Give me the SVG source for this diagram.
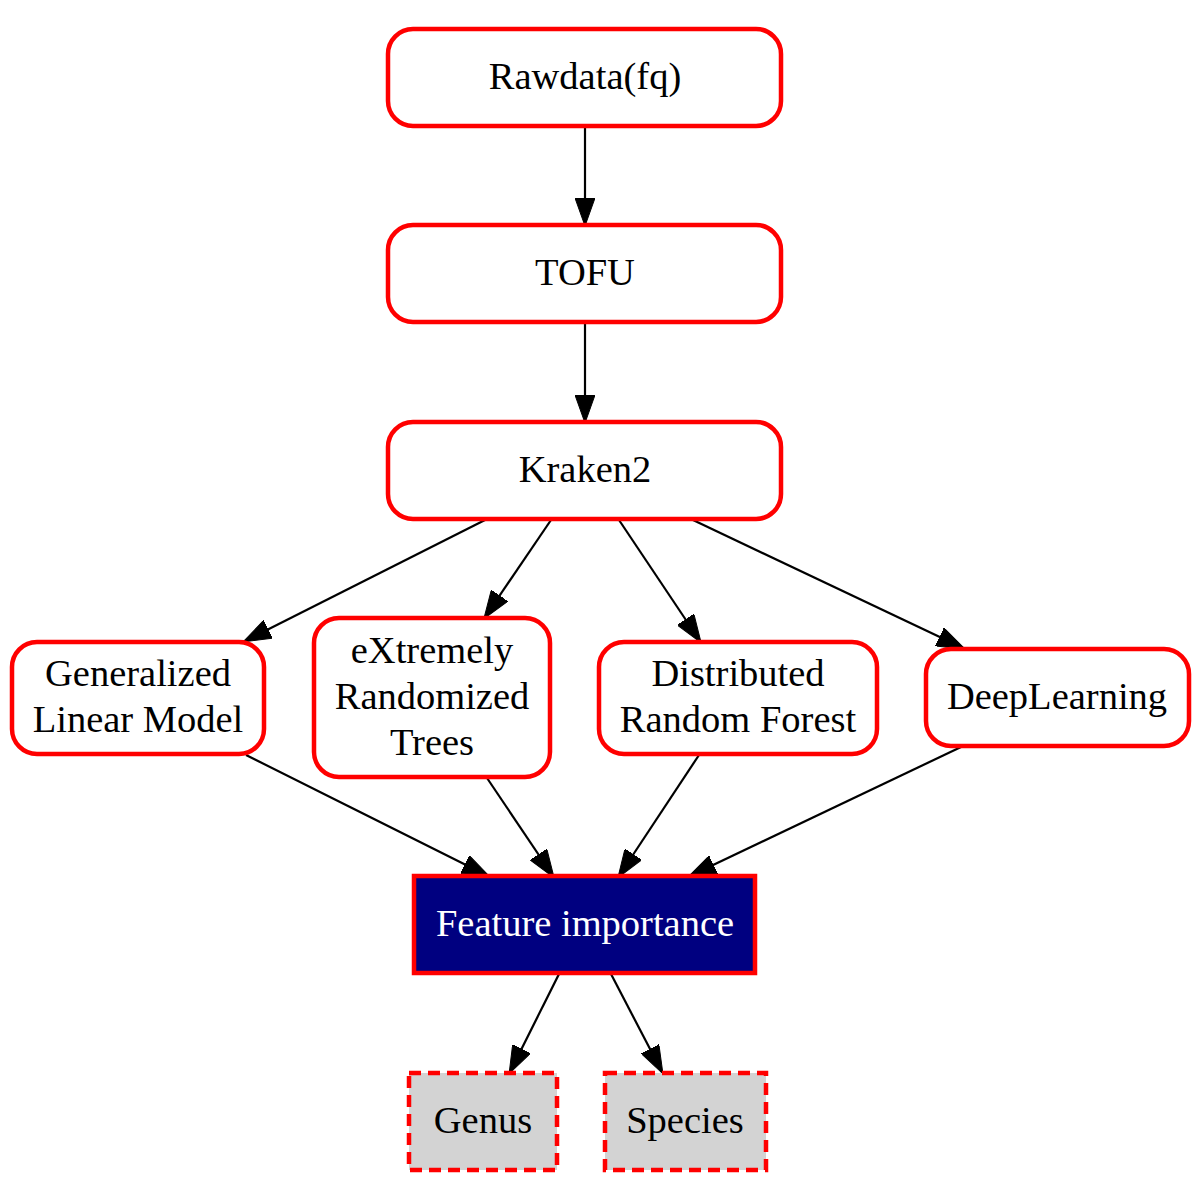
<svg xmlns="http://www.w3.org/2000/svg" width="1200" height="1200" viewBox="0 0 1200 1200">
<style>
.n{fill:#fff;stroke:#ff0000;stroke-width:4.5}
.fi{fill:#000080;stroke:#ff0000;stroke-width:4.5}
.d{fill:#d3d3d3;stroke:#ff0000;stroke-width:4.5;stroke-dasharray:12,7}
text{font-family:"Liberation Serif","Times New Roman",Times,serif;font-size:38.5px;text-anchor:middle;fill:#000}
.w{fill:#fff}
.e{stroke:#000;stroke-width:2.2;fill:none;marker-end:url(#a)}
</style>
<defs>
<marker id="a" viewBox="0 0 28 20" refX="26" refY="10" markerWidth="28" markerHeight="20" markerUnits="userSpaceOnUse" orient="auto">
<path d="M0,0 L28,10 L0,20 z" fill="#000" stroke="#000" stroke-width="1"/>
</marker>
</defs>
<g id="edges">
<line class="e" x1="585" y1="126" x2="585" y2="224"/>
<line class="e" x1="585" y1="322" x2="585" y2="421"/>
<line class="e" x1="485" y1="520" x2="245" y2="641"/>
<line class="e" x1="551" y1="520" x2="485" y2="617"/>
<line class="e" x1="619" y1="520" x2="700" y2="641"/>
<line class="e" x1="693" y1="520" x2="963" y2="648"/>
<line class="e" x1="246" y1="755" x2="488" y2="876"/>
<line class="e" x1="487" y1="778" x2="553" y2="876"/>
<line class="e" x1="699" y1="755" x2="619" y2="876"/>
<line class="e" x1="961" y1="747" x2="690" y2="876"/>
<line class="e" x1="559" y1="974" x2="510" y2="1072"/>
<line class="e" x1="611" y1="974" x2="662" y2="1072"/>
</g>
<g id="rawdata">
<rect class="n" x="388" y="29" width="393" height="97" rx="25"/>
<text x="585" y="89">Rawdata(fq)</text>
</g>
<g id="tofu">
<rect class="n" x="388" y="225" width="393" height="97" rx="25"/>
<text x="585" y="285">TOFU</text>
</g>
<g id="kraken2">
<rect class="n" x="388" y="422" width="393" height="97" rx="25"/>
<text x="585" y="482">Kraken2</text>
</g>
<g id="glm">
<rect class="n" x="12" y="642" width="252" height="112" rx="25"/>
<text x="138" y="686">Generalized</text>
<text x="138" y="732">Linear Model</text>
</g>
<g id="ert">
<rect class="n" x="314" y="618" width="236" height="159" rx="25"/>
<text x="432" y="663">eXtremely</text>
<text x="432" y="709">Randomized</text>
<text x="432" y="755">Trees</text>
</g>
<g id="drf">
<rect class="n" x="599" y="642" width="278" height="112" rx="25"/>
<text x="738" y="686">Distributed</text>
<text x="738" y="732">Random Forest</text>
</g>
<g id="dl">
<rect class="n" x="926" y="649" width="263" height="97" rx="25"/>
<text x="1057" y="709">DeepLearning</text>
</g>
<g id="featureimportance">
<rect class="fi" x="414" y="876" width="341" height="97"/>
<text class="w" x="585" y="936">Feature importance</text>
</g>
<g id="genus">
<rect class="d" x="409" y="1073" width="148" height="97"/>
<text x="483" y="1133">Genus</text>
</g>
<g id="species">
<rect class="d" x="605" y="1073" width="161" height="97"/>
<text x="685" y="1133">Species</text>
</g>
</svg>
